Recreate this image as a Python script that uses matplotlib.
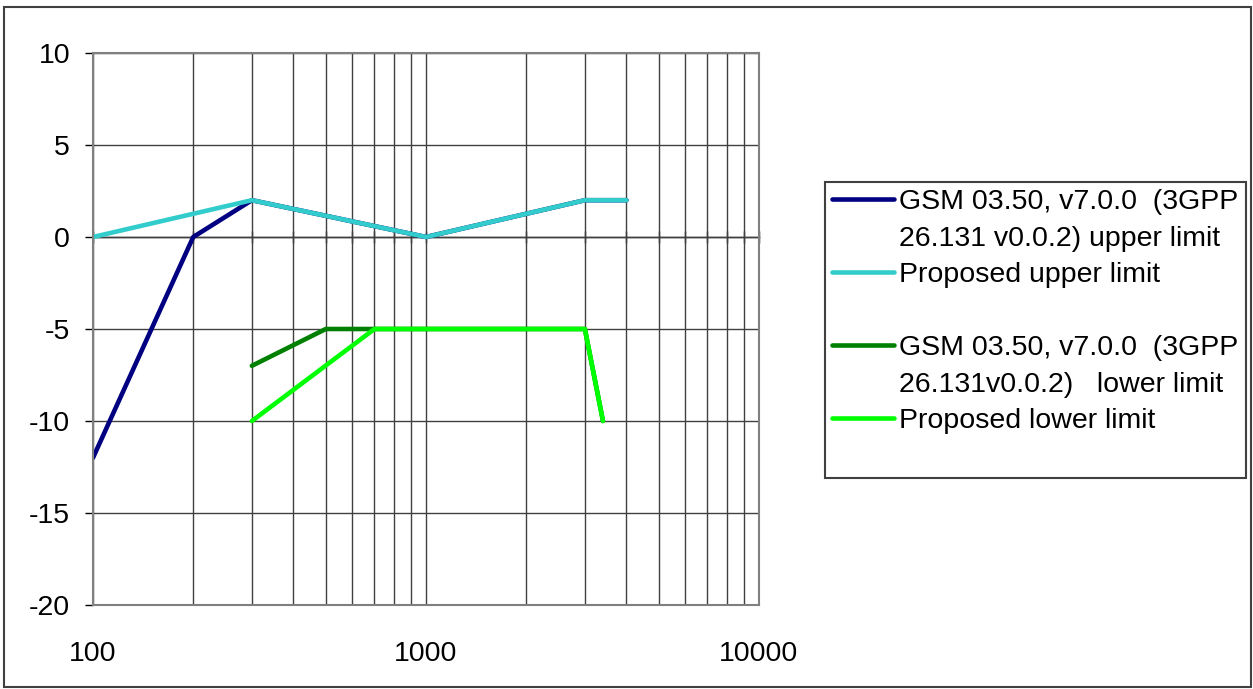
import matplotlib
matplotlib.use('Agg')
import matplotlib.pyplot as plt
from matplotlib.lines import Line2D
from matplotlib.patches import Rectangle
from matplotlib.ticker import FuncFormatter, NullFormatter, FixedLocator

plt.rcParams['font.family'] = ['Liberation Sans', 'DejaVu Sans']
plt.rcParams['axes.unicode_minus'] = False

# frequency [Hz] / level [dB]
freq_gsm_upper = [100, 200, 300, 1000, 3000, 4000]
gsm_upper = [-12, 0, 2, 0, 2, 2]
freq_prop_upper = [100, 300, 1000, 3000, 4000]
prop_upper = [0, 2, 0, 2, 2]
freq_gsm_lower = [300, 500, 700, 3000, 3400]
gsm_lower = [-7, -5, -5, -5, -10]
freq_prop_lower = [300, 700, 3000, 3400]
prop_lower = [-10, -5, -5, -10]

labels = ['GSM 03.50, v7.0.0  (3GPP', '26.131 v0.0.2) upper limit',
          'Proposed upper limit', ' ',
          'GSM 03.50, v7.0.0  (3GPP', '26.131v0.0.2)   lower limit',
          'Proposed lower limit', ' ']
yticks = [-20, -15, -10, -5, 0, 5, 10]
xticks = [100, 1000, 10000]

W, H = 1253, 689
fig = plt.figure(figsize=(W / 100, H / 100), dpi=100)
ax = fig.add_axes([93 / W, 1 - 605 / H, (759 - 93) / W, (605 - 53) / H])

fs = 20.5
lw = 3.3
kw = dict(linewidth=lw, solid_capstyle='round', solid_joinstyle='round')
l1, = ax.plot(freq_gsm_upper, gsm_upper, color='#000080', **kw)
l2, = ax.plot(freq_prop_upper, prop_upper, color='#33CCCC', **kw)
l3, = ax.plot(freq_gsm_lower, gsm_lower, color='#008000', **kw)
l4, = ax.plot(freq_prop_lower, prop_lower, color='#00FF00', **kw)

ax.set_xscale('log')
ax.set_xlim(100, 10000)
ax.set_ylim(-20, 10)
ax.set_yticks(yticks)
ax.xaxis.set_major_locator(FixedLocator(xticks))
ax.xaxis.set_major_formatter(FuncFormatter(lambda v, p: '%d' % v))
ax.xaxis.set_minor_formatter(NullFormatter())

ax.grid(which='both', axis='x', color='#404040', linewidth=1)
ax.grid(which='major', axis='y', color='#404040', linewidth=1)
ax.set_axisbelow(True)
for s in ax.spines.values():
    s.set_color('#808080')
    s.set_linewidth(1.5)

ax.tick_params(axis='y', direction='out', length=6, width=1, pad=10.5,
               labelsize=fs, color='black')
ax.tick_params(axis='x', which='both', length=0, pad=26, labelsize=fs)

# x axis line crosses at y = 0
sec = ax.secondary_xaxis(2 / 3)
sec.tick_params(which='both', direction='inout', length=9, width=1,
                color='black', labeltop=False, labelbottom=False)
sec.xaxis.set_major_formatter(NullFormatter())
sec.xaxis.set_minor_formatter(NullFormatter())
for s in sec.spines.values():
    s.set_color('black')
    s.set_linewidth(1)

blank = Line2D([], [], color='none')
handles = [l1, blank, l2, blank, l3, blank, l4, blank]
leg = fig.legend(handles, labels, loc='upper left',
                 bbox_to_anchor=(825 / W, 1 - 182 / H), bbox_transform=fig.transFigure,
                 fontsize=fs, frameon=True, fancybox=False, framealpha=1,
                 edgecolor='#404040', borderaxespad=0, borderpad=0.25,
                 handlelength=2.18, handletextpad=0.18, labelspacing=0.37)
leg.get_frame().set_linewidth(1.5)

fig.add_artist(Rectangle((4 / W, 1 - 687 / H), (1251 - 4) / W, (687 - 7) / H,
                         transform=fig.transFigure, fill=False,
                         edgecolor='#404040', linewidth=1.5))

fig.savefig('out.png', dpi=100)
